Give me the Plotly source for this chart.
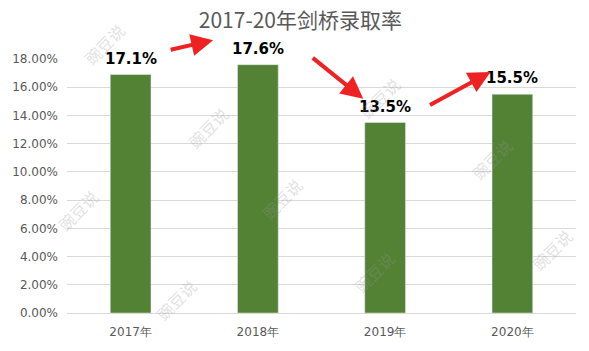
import plotly.graph_objects as go

years = ["2017年", "2018年", "2019年", "2020年"]
rates = [0.169, 0.176, 0.135, 0.155]
labels = ["17.1%", "17.6%", "13.5%", "15.5%"]
tick_vals = [0, 0.02, 0.04, 0.06, 0.08, 0.10, 0.12, 0.14, 0.16, 0.18]
tick_text = ["0.00%", "2.00%", "4.00%", "6.00%", "8.00%", "10.00%", "12.00%", "14.00%", "16.00%", "18.00%"]

W, H = 589, 351
ML, MR, MT, MB = 64, 13, 59, 36

fig = go.Figure(go.Bar(
    x=years, y=rates, width=0.32,
    marker=dict(color="#548235"),
    showlegend=False, hoverinfo="skip",
))

# data labels above bars
for yr, v, lab in zip(years, rates, labels):
    fig.add_annotation(x=yr, y=v, text=lab, showarrow=False, yanchor="bottom", yshift=5,
                       font=dict(family="DejaVu Sans", size=15, color="#000000", weight="bold"))

def px(x, y):
    return (x - ML) / (W - ML - MR), (H - MB - y) / (H - MT - MB)

# red arrows (pixel positions: tail -> head)
arrows = [((167, 50), (211, 40)), ((310, 57), (362, 99)), ((428, 106), (490, 72))]
for (tx, ty), (hx, hy) in arrows:
    x, y = px(hx, hy)
    fig.add_annotation(x=x, y=y, xref="paper", yref="paper", ax=tx - hx, ay=ty - hy,
                       showarrow=True, arrowhead=2, arrowsize=1.1, arrowwidth=4,
                       arrowcolor="#ee2222", text="")

# watermarks
wm = [(73, 15), (177, 100), (407, 70), (47, 240), (145, 330), (280, 200), (373, 302), (520, 160), (580, 280)]
for (wx, wy) in wm:
    x, y = px(wx, wy)
    fig.add_annotation(x=x, y=y, xref="paper", yref="paper", text="豌豆说", showarrow=False,
                       textangle=-45, font=dict(family="Noto Sans CJK SC", size=16, color="rgba(150,150,150,0.3)"))

fig.update_layout(
    width=W, height=H, margin=dict(l=ML, r=MR, t=MT, b=MB),
    paper_bgcolor="white", plot_bgcolor="white", showlegend=False,
    title=dict(text="2017-20年剑桥录取率", x=0.51, xanchor="center", y=0.94, yanchor="middle",
               font=dict(family="Noto Sans CJK SC", size=21, color="#595959")),
    xaxis=dict(showline=True, linecolor="#d9d9d9", tickfont=dict(family="DejaVu Sans", size=12, color="#595959"),
               ticks="", showgrid=False, ticklabelstandoff=8),
    yaxis=dict(range=[0, 0.18], tickvals=tick_vals, ticktext=tick_text, showgrid=True, gridcolor="#d9d9d9",
               zeroline=False, ticks="", tickfont=dict(family="DejaVu Sans", size=12, color="#595959"),
               ticklabelstandoff=8),
)

fig.write_html("out.html")
